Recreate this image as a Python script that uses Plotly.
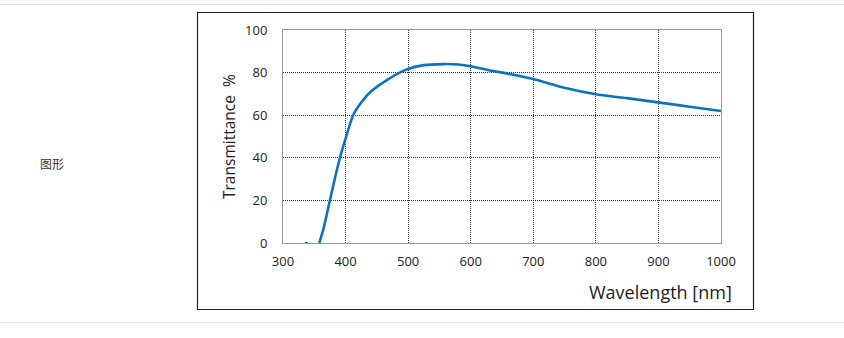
import plotly.graph_objects as go

# Data
wavelength = [358, 365, 375, 385, 391, 400, 412, 425, 440, 466, 498, 525, 556, 580,
              600, 631, 660, 700, 730, 753, 800, 850, 902, 950, 1000]
transmittance = [0, 7, 20, 33, 40, 49, 60, 66, 71, 76.5, 81.5, 83.5, 84, 83.8,
                 83, 81, 79.5, 77, 74.5, 72.6, 69.8, 68, 65.9, 64, 62]
stub_wl = [335, 340]
stub_t = [0, 0]
x_ticks = [300, 400, 500, 600, 700, 800, 900, 1000]
y_ticks = [0, 20, 40, 60, 80, 100]

W, H = 844, 338
L, R, T, B = 283, 721, 30, 243
pw, ph = R - L, B - T

def px(x):
    return (x - L) / pw

def py(y):
    return (B - y) / ph

blue = "#0a72c2"
fig = go.Figure()
fig.add_trace(go.Scatter(x=wavelength, y=transmittance, mode="lines",
                         line=dict(color=blue, width=2.6, shape="spline", smoothing=0.6),
                         hoverinfo="skip", showlegend=False))
fig.add_trace(go.Scatter(x=stub_wl, y=stub_t, mode="lines",
                         line=dict(color=blue, width=2), hoverinfo="skip", showlegend=False))

axis_common = dict(showgrid=True, gridcolor="#333", griddash="1px,1px", gridwidth=1,
                   showline=True, linecolor="#999", linewidth=1, mirror=True,
                   zeroline=False, ticks="", tickfont=dict(family="Open Sans", size=13, color="#222"),
                   fixedrange=True)

fig.update_layout(
    width=W, height=H,
    margin=dict(l=L, r=W - R, t=T, b=H - B, pad=0),
    paper_bgcolor="white", plot_bgcolor="white",
    xaxis=dict(range=[300, 1000], tickvals=x_ticks, ticklabelstandoff=6, **axis_common),
    yaxis=dict(range=[0, 100], tickvals=y_ticks, ticklabelstandoff=12, **axis_common),
    shapes=[
        dict(type="rect", xref="paper", yref="paper", x0=px(197.5), x1=px(753.5),
             y0=py(12.5), y1=py(309.5), line=dict(color="#222", width=1.2), layer="below"),
        dict(type="line", xref="paper", yref="paper", x0=px(0), x1=px(844),
             y0=py(4.5), y1=py(4.5), line=dict(color="#e3e3e3", width=1)),
        dict(type="line", xref="paper", yref="paper", x0=px(0), x1=px(844),
             y0=py(322.5), y1=py(322.5), line=dict(color="#e3e3e3", width=1)),
    ],
    annotations=[
        dict(text="Wavelength [nm]", xref="paper", yref="paper", x=px(734), y=py(292),
             xanchor="right", yanchor="middle", showarrow=False,
             font=dict(family="Open Sans", size=18, color="#222")),
        dict(text="Transmittance  %", xref="paper", yref="paper", x=px(229), y=py(137),
             xanchor="center", yanchor="middle", showarrow=False, textangle=-90,
             font=dict(family="Open Sans", size=15.5, color="#222")),
        dict(text="图形", xref="paper", yref="paper", x=px(52), y=py(163),
             xanchor="center", yanchor="middle", showarrow=False,
             font=dict(family="Noto Sans CJK SC", size=12, color="#333")),
    ],
)

fig.write_html("out.html")
